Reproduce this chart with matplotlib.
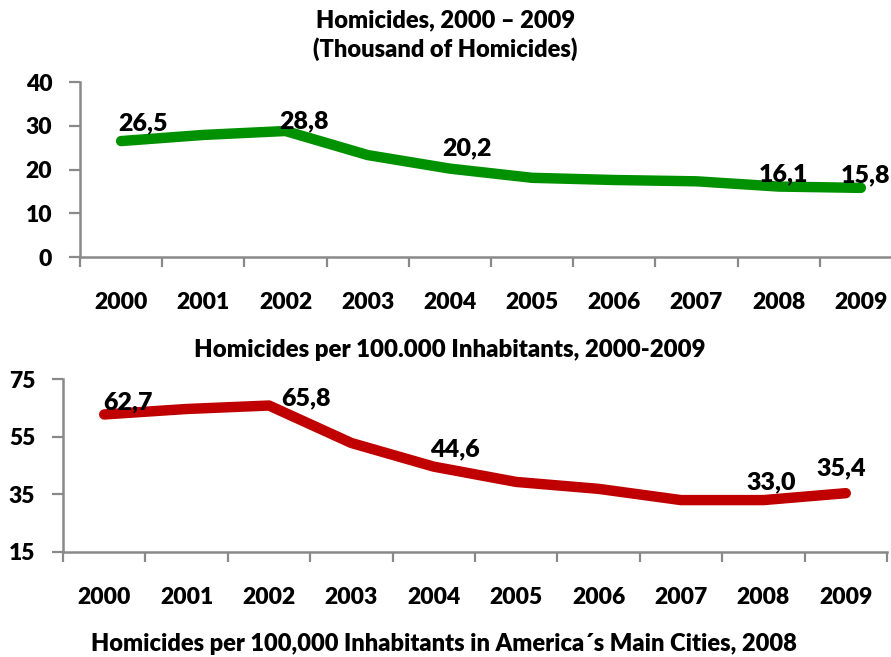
import matplotlib
matplotlib.use("Agg")
import matplotlib.pyplot as plt
from matplotlib.ticker import FixedLocator, NullFormatter, FixedFormatter

plt.rcParams['font.family'] = ['Lato', 'DejaVu Sans']
plt.rcParams['font.weight'] = 'heavy'

years = ['2000', '2001', '2002', '2003', '2004', '2005', '2006', '2007', '2008', '2009']
homicides_thousands = [26.5, 27.9, 28.8, 23.3, 20.2, 18.1, 17.6, 17.3, 16.1, 15.8]
rate_per_100k = [62.7, 64.6, 65.8, 52.8, 44.6, 39.3, 36.9, 33.0, 33.0, 35.4]

top_label_idx = [0, 2, 4, 8, 9]
bottom_label_idx = [0, 2, 4, 8, 9]

top_title = "Homicides, 2000 \u2013 2009\n(Thousand of Homicides)"
bottom_title = "Homicides per 100.000 Inhabitants, 2000-2009"
footer = "Homicides per 100,000 Inhabitants in America\u00b4s Main Cities, 2008"

W, H = 891, 657
fig = plt.figure(figsize=(W / 100, H / 100), dpi=100)

GRAY = '#898989'
FS = 16.5
LFS = 18
TFS = 17
WT = 'heavy'


def px_axes(l, r, t, b):
    return fig.add_axes([l / W, 1 - b / H, (r - l) / W, (b - t) / H])


def style(ax, yticks, ylim):
    x = list(range(len(years)))
    ax.set_xlim(-0.5, len(years) - 0.5)
    ax.set_ylim(*ylim)
    ax.xaxis.set_major_locator(FixedLocator([i - 0.5 for i in range(len(years) + 1)]))
    ax.xaxis.set_major_formatter(NullFormatter())
    ax.xaxis.set_minor_locator(FixedLocator(x))
    ax.xaxis.set_minor_formatter(FixedFormatter(years))
    ax.tick_params(axis='x', which='major', length=7, width=1.6, color=GRAY, direction='out')
    ax.tick_params(axis='x', which='minor', length=0, pad=25, labelsize=FS)
    ax.set_yticks(yticks)
    ax.set_yticklabels([str(v) for v in yticks])
    ax.tick_params(axis='y', length=8, width=1.6, color=GRAY, pad=12, labelsize=FS)
    for lab in ax.get_xticklabels(minor=True) + ax.get_yticklabels():
        lab.set_fontweight(WT)
    for s in ['top', 'right']:
        ax.spines[s].set_visible(False)
    for s in ['left', 'bottom']:
        ax.spines[s].set_color(GRAY)
        ax.spines[s].set_linewidth(1.8)


# Top chart
ax1 = px_axes(80, 902, 82, 257)
style(ax1, [0, 10, 20, 30, 40], (0, 40))
ax1.plot(range(len(years)), homicides_thousands, color='#009100', lw=7.5,
         solid_capstyle='round', solid_joinstyle='round', clip_on=False)
top_offsets = {0: (22, 18), 2: (18, 10), 4: (17, 20), 8: (5, 12), 9: (5, 13)}
for i in top_label_idx:
    dx, dy = top_offsets[i]
    ax1.annotate(f"{homicides_thousands[i]:.1f}".replace('.', ','),
                 (i, homicides_thousands[i]), xytext=(dx, dy), textcoords='offset pixels',
                 ha='center', va='center', fontsize=LFS, fontweight=WT)

# Bottom chart
ax2 = px_axes(63, 887, 379, 552)
style(ax2, [15, 35, 55, 75], (15, 75))
ax2.plot(range(len(years)), rate_per_100k, color='#C00000', lw=7.5,
         solid_capstyle='round', solid_joinstyle='round', clip_on=False)
bot_offsets = {0: (24, 12), 2: (37, 7), 4: (21, 17), 8: (8, 18), 9: (-5, 25)}
for i in bottom_label_idx:
    dx, dy = bot_offsets[i]
    ax2.annotate(f"{rate_per_100k[i]:.1f}".replace('.', ','),
                 (i, rate_per_100k[i]), xytext=(dx, dy), textcoords='offset pixels',
                 ha='center', va='center', fontsize=LFS, fontweight=WT)

fig.text(445.5 / W, 1 - 35 / H, top_title, ha='center', va='center', fontsize=TFS,
         fontweight=WT, linespacing=1.3)
fig.text(450 / W, 1 - 350 / H, bottom_title, ha='center', va='center', fontsize=TFS + 0.3,
         fontweight=WT)
fig.text(444 / W, 1 - 644 / H, footer, ha='center', va='center', fontsize=TFS,
         fontweight=WT)

fig.savefig('out.png', dpi=100)
